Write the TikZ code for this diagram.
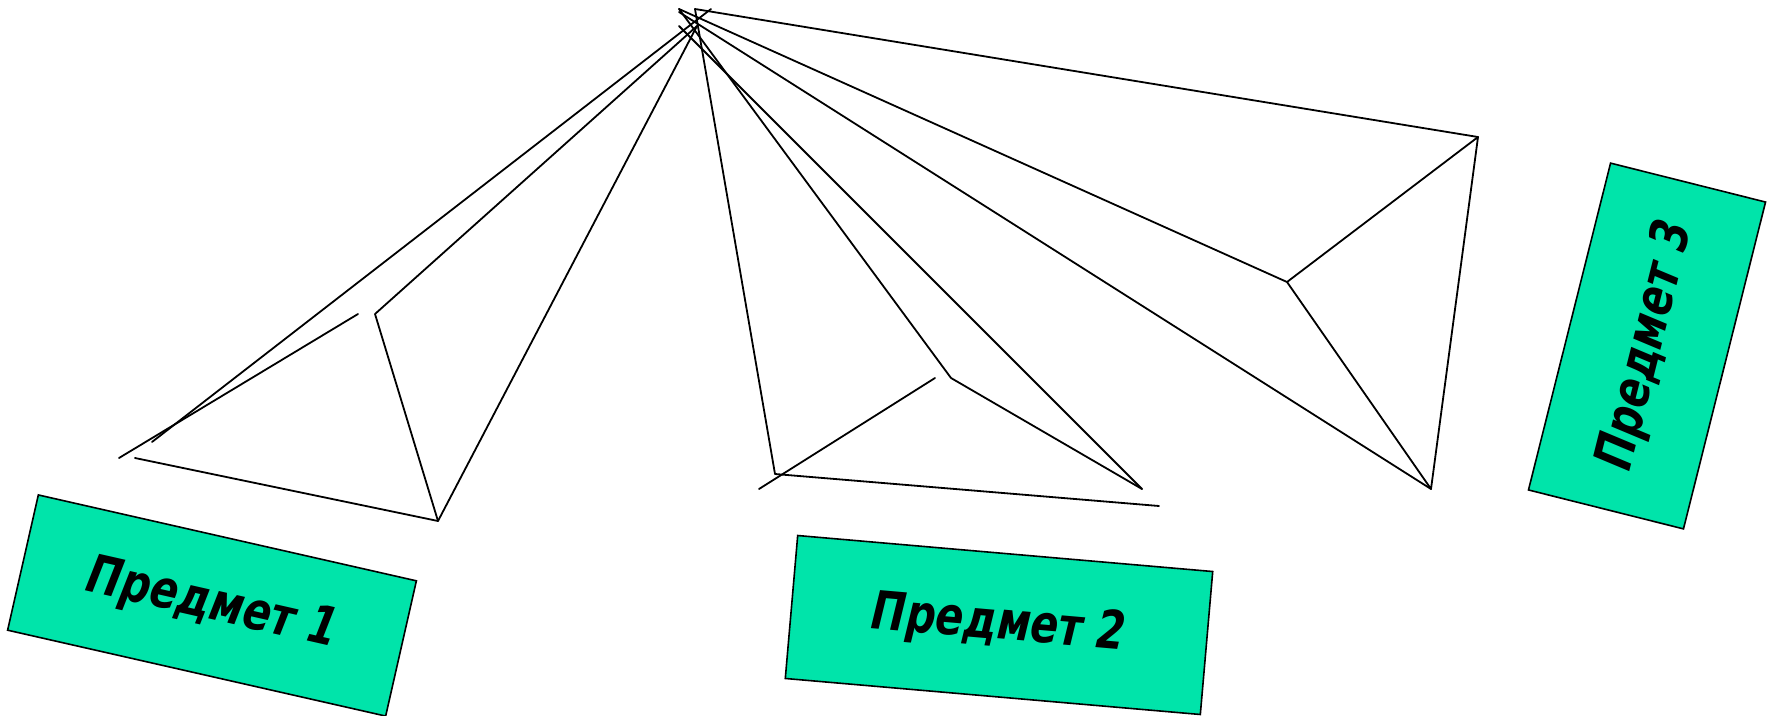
\documentclass[tikz,border=0pt]{standalone}
\usepackage{fontspec}
\setmainfont{DejaVu Sans}
\definecolor{boxgreen}{RGB}{0,228,170}
\begin{document}
\begin{tikzpicture}[x=1pt,y=-1pt,
  ray/.style={draw=black,line width=1.8pt,line cap=round,line join=round},
  itembox/.style={draw=black,line width=1.6pt,fill=boxgreen,inner sep=0pt,outer sep=0pt,
    font=\fontsize{53}{58}\selectfont\bfseries\itshape}]
\useasboundingbox (0,0) rectangle (1771,715);
% apex points
\coordinate (a1) at (679,9);
\coordinate (a2) at (695,9);
\coordinate (a3) at (711,9);
\coordinate (a4) at (679,26);
\coordinate (a5) at (697,26);
\coordinate (a6) at (679,12);
% left object
\coordinate (l1) at (152,442);
\coordinate (l2) at (358,314);
\coordinate (l3) at (119,458);
\coordinate (l4) at (375,314);
\coordinate (l5) at (438,521);
\coordinate (l6) at (135,458);
% middle object
\coordinate (m1) at (775,474);
\coordinate (m2) at (1159,506);
\coordinate (m3) at (759,489);
\coordinate (m4) at (935,378);
\coordinate (m5) at (951,378);
\coordinate (m6) at (1142,489);
% right object
\coordinate (r1) at (1478,137);
\coordinate (r2) at (1287,282);
\coordinate (r3) at (1431,489);
% left lines
\draw[ray] (a3) -- (l1);
\draw[ray] (l2) -- (l3);
\draw[ray] (a5) -- (l4) -- (l5);
\draw[ray] (l6) -- (l5) -- (a5);
% middle lines
\draw[ray] (a2) -- (m1) -- (m2);
\draw[ray] (m3) -- (m4);
\draw[ray] (a1) -- (m5) -- (m6);
\draw[ray] (a4) -- (m6);
% right lines
\draw[ray] (a2) -- (r1);
\draw[ray] (a1) -- (r2) -- (r1) -- (r3) -- (r2);
\draw[ray] (a6) -- (r3);
% boxes
\node[itembox,rotate=-12.8,minimum width=387.7pt,minimum height=138.7pt] (p1) at (212,605.5) {\scalebox{0.78}[1]{Предмет 1}};
\node[itembox,rotate=-4.96,minimum width=416.6pt,minimum height=143.5pt] (p2) at (999,625) {\scalebox{0.78}[1]{Предмет 2}};
\node[itembox,rotate=75.9,minimum width=337pt,minimum height=159.8pt] (p3) at (1647,346) {\scalebox{0.78}[1]{Предмет 3}};
\end{tikzpicture}
\end{document}
